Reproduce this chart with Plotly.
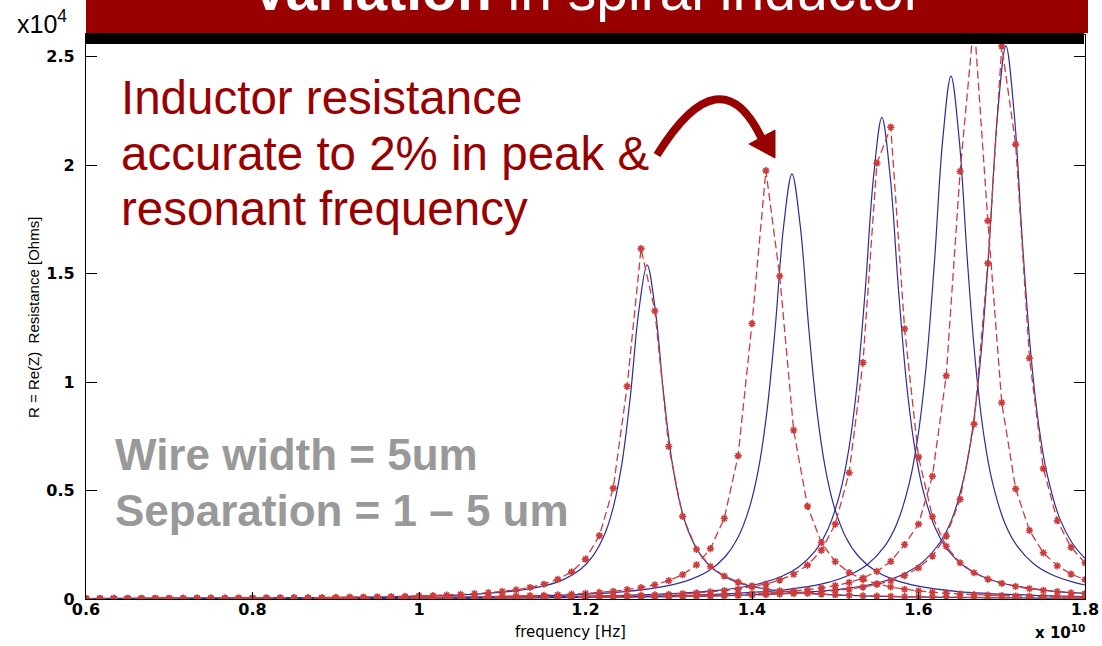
import plotly.graph_objects as go

# ---------------- data (frequency in units of 1e10 Hz, resistance in units of 1e4 Ohm) ----------------
red_freq = [0.6, 0.6167, 0.6333, 0.65, 0.6667, 0.6833, 0.7, 0.7167, 0.7333, 0.75, 0.7667, 0.7833,
            0.8, 0.8167, 0.8333, 0.85, 0.8667, 0.8833, 0.9, 0.9167, 0.9333, 0.95, 0.9667, 0.9833,
            1.0, 1.0167, 1.0333, 1.05, 1.0667, 1.0833, 1.1, 1.1167, 1.1333, 1.15, 1.1667, 1.1833,
            1.2, 1.2167, 1.2333, 1.25, 1.2667, 1.2833, 1.3, 1.3167, 1.3333, 1.35, 1.3667, 1.3833,
            1.4, 1.4167, 1.4333, 1.45, 1.4667, 1.4833, 1.5, 1.5167, 1.5333, 1.55, 1.5667, 1.5833,
            1.6, 1.6167, 1.6333, 1.65, 1.6667, 1.6833, 1.7, 1.7167, 1.7333, 1.75, 1.7667, 1.7833, 1.8]

red1 = [0.0023, 0.0024, 0.0026, 0.0027, 0.0028, 0.0030, 0.0032, 0.0034, 0.0036, 0.0038,
        0.0041, 0.0044, 0.0047, 0.0050, 0.0054, 0.0058, 0.0063, 0.0069, 0.0075, 0.0082,
        0.0091, 0.0100, 0.0111, 0.0125, 0.0140, 0.0159, 0.0182, 0.0210, 0.0245, 0.0290,
        0.0348, 0.0425, 0.0531, 0.0681, 0.0904, 0.125, 0.184, 0.292, 0.511, 0.980,
        1.615, 1.328, 0.703, 0.381, 0.229, 0.150, 0.106, 0.078, 0.060, 0.047,
        0.038, 0.0317, 0.0266, 0.0227, 0.0195, 0.0170, 0.0149, 0.0132, 0.0118, 0.0106,
        0.0095, 0.0086, 0.0079, 0.0072, 0.0066, 0.0061, 0.0056, 0.0052, 0.0048, 0.0045,
        0.0042, 0.0039, 0.0037]
red2 = [0.0019, 0.0019, 0.0020, 0.0021, 0.0022, 0.0023, 0.0024, 0.0025, 0.0026, 0.0028,
        0.0029, 0.0031, 0.0032, 0.0034, 0.0036, 0.0038, 0.0041, 0.0043, 0.0046, 0.0049,
        0.0053, 0.0057, 0.0061, 0.0066, 0.0071, 0.0077, 0.0084, 0.0091, 0.0100, 0.0110,
        0.0122, 0.0135, 0.0152, 0.0171, 0.0195, 0.0223, 0.0258, 0.0302, 0.0357, 0.0429,
        0.0523, 0.0655, 0.0844, 0.112, 0.157, 0.232, 0.372, 0.660, 1.270, 1.975,
        1.489, 0.779, 0.427, 0.260, 0.172, 0.122, 0.0905, 0.0698, 0.0553, 0.0449,
        0.0372, 0.0313, 0.0267, 0.0230, 0.0200, 0.0176, 0.0156, 0.0139, 0.0125, 0.0113,
        0.0102, 0.0093, 0.0085]
red3 = [0.0016, 0.0016, 0.0017, 0.0018, 0.0018, 0.0019, 0.0020, 0.0020, 0.0021, 0.0022,
        0.0023, 0.0024, 0.0025, 0.0026, 0.0028, 0.0029, 0.0030, 0.0032, 0.0033, 0.0035,
        0.0037, 0.0039, 0.0041, 0.0044, 0.0046, 0.0049, 0.0052, 0.0056, 0.0060, 0.0064,
        0.0069, 0.0074, 0.0080, 0.0087, 0.0094, 0.0103, 0.0112, 0.0124, 0.0136, 0.0152,
        0.0169, 0.0190, 0.0215, 0.0243, 0.0280, 0.0326, 0.0383, 0.0457, 0.0555, 0.0688,
        0.0874, 0.114, 0.156, 0.224, 0.345, 0.582, 1.090, 2.009, 2.175, 1.245,
        0.654, 0.380, 0.243, 0.167, 0.121, 0.092, 0.072, 0.0579, 0.0475, 0.0397,
        0.0336, 0.0288, 0.0250]
red4 = [0.0015, 0.0015, 0.0016, 0.0016, 0.0017, 0.0017, 0.0018, 0.0019, 0.0019, 0.0020,
        0.0021, 0.0022, 0.0022, 0.0023, 0.0024, 0.0025, 0.0026, 0.0027, 0.0029, 0.0030,
        0.0031, 0.0033, 0.0034, 0.0036, 0.0038, 0.0040, 0.0042, 0.0044, 0.0047, 0.0050,
        0.0052, 0.0056, 0.0059, 0.0063, 0.0067, 0.0072, 0.0077, 0.0083, 0.0090, 0.0097,
        0.0105, 0.0115, 0.0126, 0.0138, 0.0152, 0.0168, 0.0188, 0.0211, 0.0239, 0.0272,
        0.0312, 0.0362, 0.0426, 0.0508, 0.0615, 0.0761, 0.0966, 0.127, 0.173, 0.251,
        0.345, 0.566, 1.029, 1.971, 2.668, 1.743, 0.905, 0.508, 0.316, 0.213,
        0.153, 0.115, 0.0889]
red5 = [0.0013, 0.0014, 0.0014, 0.0015, 0.0015, 0.0016, 0.0016, 0.0017, 0.0017, 0.0018,
        0.0019, 0.0019, 0.0020, 0.0021, 0.0022, 0.0022, 0.0023, 0.0024, 0.0025, 0.0026,
        0.0028, 0.0029, 0.0030, 0.0032, 0.0033, 0.0035, 0.0036, 0.0038, 0.0040, 0.0042,
        0.0045, 0.0047, 0.0050, 0.0053, 0.0057, 0.0060, 0.0064, 0.0069, 0.0074, 0.0079,
        0.0085, 0.0092, 0.0100, 0.0109, 0.0119, 0.0130, 0.0143, 0.0158, 0.0176, 0.0197,
        0.0221, 0.0251, 0.0287, 0.0332, 0.0387, 0.0458, 0.0549, 0.0671, 0.0839, 0.108,
        0.143, 0.198, 0.290, 0.460, 0.806, 1.547, 2.549, 2.096, 1.110, 0.601,
        0.361, 0.238, 0.167]

blue1_f = [0.6, 0.8, 0.974, 1.074, 1.124, 1.154, 1.174, 1.194, 1.209, 1.224, 1.234, 1.244, 1.254, 1.264,
           1.274, 1.284, 1.294, 1.304, 1.314, 1.324, 1.339, 1.354, 1.374, 1.394, 1.424, 1.474, 1.574, 1.8]
blue1_r = [0.0021, 0.0043, 0.0106, 0.0237, 0.0416, 0.064, 0.0906, 0.137, 0.199, 0.308, 0.433, 0.631, 0.939, 1.327,
           1.54, 1.327, 0.939, 0.631, 0.433, 0.308, 0.199, 0.137, 0.0906, 0.064, 0.0416, 0.0237, 0.0106, 0.0035]
blue2_f = [0.6, 0.9, 1.148, 1.248, 1.298, 1.328, 1.348, 1.368, 1.383, 1.398, 1.408, 1.418, 1.428, 1.438,
           1.448, 1.458, 1.468, 1.478, 1.488, 1.498, 1.513, 1.528, 1.548, 1.568, 1.598, 1.648, 1.748, 1.8]
blue2_r = [0.0019, 0.0047, 0.0155, 0.0343, 0.0602, 0.0925, 0.130, 0.196, 0.282, 0.435, 0.604, 0.866, 1.256, 1.719,
           1.96, 1.719, 1.256, 0.866, 0.604, 0.435, 0.282, 0.196, 0.130, 0.0925, 0.0602, 0.0343, 0.0155, 0.0112]
blue3_f = [0.6, 0.9, 1.1, 1.256, 1.356, 1.406, 1.436, 1.456, 1.476, 1.491, 1.506, 1.516, 1.526, 1.536, 1.546,
           1.556, 1.566, 1.576, 1.586, 1.596, 1.606, 1.621, 1.636, 1.656, 1.676, 1.706, 1.756, 1.8]
blue3_r = [0.0017, 0.0037, 0.0076, 0.0175, 0.0389, 0.0682, 0.105, 0.148, 0.222, 0.320, 0.493, 0.684, 0.981, 1.423, 1.947,
           2.22, 1.947, 1.423, 0.981, 0.684, 0.493, 0.320, 0.222, 0.148, 0.105, 0.0682, 0.0389, 0.0263]
blue4_f = [0.6, 0.9, 1.1, 1.339, 1.439, 1.489, 1.519, 1.539, 1.559, 1.574, 1.589, 1.599, 1.609, 1.619, 1.629,
           1.639, 1.649, 1.659, 1.669, 1.679, 1.689, 1.704, 1.719, 1.739, 1.759, 1.789, 1.8]
blue4_r = [0.0016, 0.0031, 0.0059, 0.019, 0.0422, 0.074, 0.114, 0.160, 0.241, 0.347, 0.535, 0.742, 1.065, 1.545, 2.114,
           2.41, 2.114, 1.545, 1.065, 0.742, 0.535, 0.347, 0.241, 0.160, 0.114, 0.074, 0.0645]
blue5_f = [0.6, 0.9, 1.1, 1.3, 1.405, 1.505, 1.555, 1.585, 1.605, 1.625, 1.640, 1.655, 1.665, 1.675, 1.685, 1.695,
           1.705, 1.715, 1.725, 1.735, 1.745, 1.755, 1.770, 1.785, 1.8]
blue5_r = [0.0015, 0.0028, 0.005, 0.011, 0.0201, 0.0446, 0.0783, 0.120, 0.170, 0.256, 0.367, 0.566, 0.785, 1.127, 1.635, 2.236,
           2.55, 2.236, 1.635, 1.127, 0.785, 0.566, 0.367, 0.256, 0.187]

x_tick_vals = [0.6, 0.8, 1.0, 1.2, 1.4, 1.6, 1.8]
x_tick_text = ["0.6", "0.8", "1", "1.2", "1.4", "1.6", "1.8"]
y_tick_vals = [0, 0.5, 1, 1.5, 2, 2.5]
y_tick_text = ["0", "0.5", "1", "1.5", "2", "2.5"]

title_bold = "Variation"
title_rest = " in spiral inductor"
callout_lines = ["Inductor resistance", "accurate to 2% in peak &", "resonant frequency"]
info_lines = ["Wire width = 5um", "Separation = 1 \u2013 5 um"]

# ---------------- figure ----------------
W, H = 1102, 646
L, R, T, B = 86, 17, 35, 47
PW, PH = W - L - R, H - T - B


def px(x):
    return (x - L) / PW


def py(y):
    return (H - B - y) / PH


BLUE = "rgb(45,45,150)"
RED_LINE = "rgb(205,60,60)"
RED_MARK = "rgb(225,30,30)"
DARK_RED = "#990000"

fig = go.Figure()

blues = [(blue1_f, blue1_r), (blue2_f, blue2_r), (blue3_f, blue3_r), (blue4_f, blue4_r), (blue5_f, blue5_r)]
reds = [red1, red2, red3, red4, red5]

for f, r in blues:
    fig.add_trace(go.Scatter(x=f, y=r, mode="lines", line=dict(color=BLUE, width=1.2, shape="spline"),
                             showlegend=False, hoverinfo="skip"))
for r in reds:
    fig.add_trace(go.Scatter(x=red_freq, y=r, mode="lines+markers",
                             line=dict(color=RED_LINE, width=1.3, dash="8px,4px"),
                             marker=dict(symbol="asterisk-open", size=6,
                                         line=dict(color=RED_MARK, width=1.6)),
                             showlegend=False, hoverinfo="skip"))

tick_font = dict(family="DejaVu Sans", size=16, color="black", weight="bold")
fig.update_xaxes(range=[0.6, 1.8], tickvals=x_tick_vals, ticktext=x_tick_text, ticks="inside", ticklen=7,
                 tickcolor="black", showline=True, linecolor="black", linewidth=1.2, mirror="ticks",
                 showgrid=False, zeroline=False, tickfont=tick_font, ticklabelstandoff=-4,
                 automargin=False, ticklabeloverflow="allow")
fig.update_yaxes(range=[0, 2.6], tickvals=y_tick_vals, ticktext=y_tick_text, ticks="inside", ticklen=11,
                 tickcolor="black", showline=True, linecolor="black", linewidth=1.2, mirror="ticks",
                 showgrid=False, zeroline=False, tickfont=tick_font, ticklabelstandoff=7,
                 automargin=False, ticklabeloverflow="allow")

shapes = [
    # title bar
    dict(type="rect", xref="paper", yref="paper", x0=px(86), x1=px(1088), y0=py(33), y1=py(-2),
         fillcolor=DARK_RED, line=dict(width=0), layer="above"),
    dict(type="rect", xref="paper", yref="paper", x0=px(85), x1=px(1084), y0=py(44), y1=py(33),
         fillcolor="black", line=dict(width=0), layer="above"),
    # curved arrow
    dict(type="path", xref="paper", yref="paper",
         path=f"M {px(657)},{py(155)} Q {px(721)},{py(52)} {px(762)},{py(139)}",
         line=dict(color=DARK_RED, width=8), layer="above"),
    dict(type="path", xref="paper", yref="paper",
         path=f"M {px(749)},{py(144)} L {px(775)},{py(130)} L {px(775)},{py(158)} Z",
         fillcolor=DARK_RED, line=dict(color=DARK_RED, width=1), layer="above"),
]

sans = "Liberation Sans, Arial, sans-serif"
ann = []
ann.append(dict(xref="paper", yref="paper", x=px(587), y=py(24), xanchor="center", yanchor="bottom",
                text=f"<b>{title_bold}</b>{title_rest}", showarrow=False,
                font=dict(family=sans, size=57, color="white")))
for i, line in enumerate(callout_lines):
    ann.append(dict(xref="paper", yref="paper", x=px(119), y=py(98 + 55.5 * i), xanchor="left", yanchor="middle",
                    text=line, showarrow=False, font=dict(family=sans, size=47.5, color=DARK_RED)))
for i, line in enumerate(info_lines):
    ann.append(dict(xref="paper", yref="paper", x=px(113), y=py(454 + 56 * i), xanchor="left", yanchor="middle",
                    text=f"<b>{line}</b>", showarrow=False, font=dict(family=sans, size=44, color="#999999")))
ann.append(dict(xref="paper", yref="paper", x=px(15), y=py(22), xanchor="left", yanchor="middle",
                text="x10<sup>4</sup>", showarrow=False, font=dict(family=sans, size=25, color="black")))
ann.append(dict(xref="paper", yref="paper", x=px(33), y=py(318), xanchor="center", yanchor="middle",
                text="R = Re(Z)  Resistance [Ohms]", textangle=-90, showarrow=False,
                font=dict(family=sans, size=15, color="black")))
ann.append(dict(xref="paper", yref="paper", x=px(570), y=py(632), xanchor="center", yanchor="middle",
                text="frequency [Hz]", showarrow=False,
                font=dict(family="DejaVu Sans", size=15, color="black")))
ann.append(dict(xref="paper", yref="paper", x=px(1060), y=py(632), xanchor="center", yanchor="middle",
                text="<b>x 10<sup>10</sup></b>", showarrow=False,
                font=dict(family="DejaVu Sans", size=15, color="black")))

fig.update_layout(width=W, height=H, autosize=False, margin=dict(l=L, r=R, t=T, b=B, pad=0),
                  paper_bgcolor="white", plot_bgcolor="white", shapes=shapes, annotations=ann,
                  showlegend=False)

post = ("document.documentElement.style.margin='0';document.body.style.margin='0';"
        "document.body.style.overflow='hidden';")
fig.write_html("out.html", config={"displayModeBar": False, "responsive": False},
               post_script=post)
